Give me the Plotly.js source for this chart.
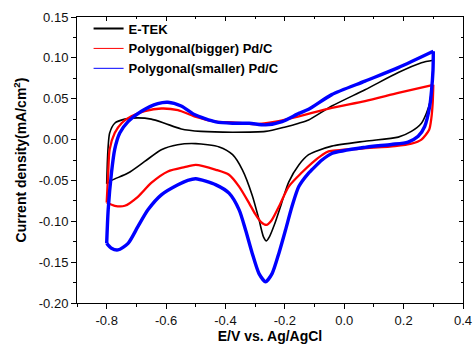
<!DOCTYPE html>
<html>
<head>
<meta charset="utf-8">
<script src="https://cdn.plot.ly/plotly-3.0.1.min.js"></script>
<style>html,body{margin:0;padding:0;background:#fff;}#chart{width:476px;height:345px;}</style>
</head>
<body>
<div id="chart"></div>
<script>
// E-TEK (black): anodic (forward) and cathodic (reverse) scans
var etekFwdX = [-0.8,-0.798,-0.795,-0.79,-0.773,-0.739,-0.695,-0.65,-0.605,-0.549,-0.482,-0.376,-0.265,-0.198,-0.153,-0.12,-0.042,0.07,0.182,0.26,0.3];
var etekFwdY = [-0.054,-0.03,-0.008,0.008,0.020,0.025,0.0265,0.025,0.020,0.013,0.010,0.009,0.010,0.0155,0.020,0.024,0.041,0.061,0.082,0.094,0.097];
var etekRevX = [0.3,0.296,0.288,0.277,0.26,0.226,0.182,0.07,-0.042,-0.097,-0.12,-0.153,-0.187,-0.212,-0.235,-0.252,-0.262,-0.272,-0.287,-0.31,-0.343,-0.376,-0.421,-0.5,-0.561,-0.616,-0.672,-0.728,-0.784,-0.8];
var etekRevY = [0.097,0.07,0.045,0.0326,0.020,0.010,0.003,-0.002,-0.008,-0.0145,-0.0185,-0.031,-0.052,-0.079,-0.104,-0.119,-0.124,-0.119,-0.098,-0.068,-0.037,-0.0185,-0.009,-0.005,-0.0063,-0.0124,-0.0268,-0.041,-0.050,-0.054];

// Polygonal (bigger) Pd/C (red)
var biggerFwdX = [-0.8,-0.795,-0.79,-0.773,-0.75,-0.717,-0.672,-0.616,-0.56,-0.505,-0.432,-0.376,-0.298,-0.231,-0.153,-0.042,0.07,0.182,0.3];
var biggerFwdY = [-0.077,-0.041,-0.012,0.008,0.020,0.0285,0.0347,0.038,0.036,0.0285,0.022,0.021,0.019,0.022,0.0285,0.0388,0.047,0.057,0.067];
var biggerRevX = [0.3,0.298,0.293,0.286,0.26,0.226,0.171,0.059,-0.053,-0.075,-0.109,-0.142,-0.187,-0.22,-0.245,-0.262,-0.28,-0.3,-0.32,-0.354,-0.388,-0.432,-0.5,-0.538,-0.594,-0.65,-0.695,-0.739,-0.773,-0.8];
var biggerRevY = [0.067,0.045,0.025,0.012,0.0,-0.005,-0.008,-0.011,-0.0145,-0.019,-0.0287,-0.040,-0.0575,-0.082,-0.099,-0.1045,-0.101,-0.091,-0.078,-0.0575,-0.043,-0.037,-0.031,-0.0337,-0.039,-0.053,-0.070,-0.081,-0.081,-0.077];

// Polygonal (smaller) Pd/C (blue)
var smallerFwdX = [-0.8,-0.795,-0.784,-0.773,-0.756,-0.728,-0.683,-0.628,-0.594,-0.549,-0.505,-0.432,-0.376,-0.32,-0.265,-0.209,-0.153,-0.12,-0.042,0.07,0.182,0.3];
var smallerFwdY = [-0.127,-0.086,-0.041,-0.012,0.008,0.022,0.0347,0.044,0.0457,0.041,0.0306,0.0216,0.020,0.020,0.018,0.022,0.032,0.037,0.055,0.0715,0.088,0.108];
var smallerRevX = [0.3,0.299,0.294,0.288,0.271,0.249,0.215,0.159,0.07,-0.042,-0.075,-0.109,-0.12,-0.153,-0.176,-0.198,-0.22,-0.243,-0.265,-0.287,-0.31,-0.332,-0.354,-0.388,-0.432,-0.5,-0.527,-0.56,-0.616,-0.661,-0.695,-0.728,-0.762,-0.784,-0.8];
var smallerRevY = [0.108,0.085,0.06,0.041,0.016,0.004,-0.003,-0.006,-0.0095,-0.017,-0.025,-0.037,-0.041,-0.0575,-0.082,-0.111,-0.139,-0.164,-0.174,-0.164,-0.139,-0.111,-0.086,-0.0656,-0.0554,-0.048,-0.050,-0.0554,-0.0677,-0.086,-0.1066,-0.127,-0.135,-0.133,-0.127];

var names = ["E-TEK", "Polygonal(bigger) Pd/C", "Polygonal(smaller) Pd/C"];
var colors = ["#000000", "#ff0000", "#0000ff"];

var xTicks = [-0.8,-0.6,-0.4,-0.2,0.0,0.2,0.4];
var xTickText = ["-0.8","-0.6","-0.4","-0.2","0.0","0.2","0.4"];
var yTicks = [-0.20,-0.15,-0.10,-0.05,0.00,0.05,0.10,0.15];
var yTickText = ["-0.20","-0.15","-0.10","-0.05","0.00","0.05","0.10","0.15"];

var FONT = "Arial, 'Liberation Sans', sans-serif";

function branch(x, y, color, width) {
  return {x: x, y: y, mode: 'lines', line: {color: color, width: width, shape: 'spline', smoothing: 0.7},
          showlegend: false, hoverinfo: 'skip'};
}

var traces = [
  branch(etekFwdX, etekFwdY, colors[0], 1.6),
  branch(etekRevX, etekRevY, colors[0], 1.6),
  branch(biggerFwdX, biggerFwdY, colors[1], 2.3),
  branch(biggerRevX, biggerRevY, colors[1], 2.3),
  branch(smallerFwdX, smallerFwdY, colors[2], 3.4),
  branch(smallerRevX, smallerRevY, colors[2], 3.4),
  // legend entries
  {x: [null], y: [null], mode: 'lines', name: names[0], line: {color: colors[0], width: 2}},
  {x: [null], y: [null], mode: 'lines', name: names[1], line: {color: colors[1], width: 1}},
  {x: [null], y: [null], mode: 'lines', name: names[2], line: {color: colors[2], width: 1}},
  // helper for mirrored top/right axes
  {x: [null], y: [null], xaxis: 'x2', yaxis: 'y2', showlegend: false, hoverinfo: 'skip'}
];

var axisCommon = {
  showgrid: false, zeroline: false, showline: true, linecolor: '#000', linewidth: 1,
  ticks: 'outside', ticklen: 5, tickwidth: 1, tickcolor: '#000',
  tickfont: {family: FONT, size: 13, color: '#111'}
};

var layout = {
  width: 476, height: 345,
  margin: {l: 77, r: 13, t: 17, b: 42},
  paper_bgcolor: '#fff', plot_bgcolor: '#fff',
  font: {family: FONT, color: '#000'},
  xaxis: Object.assign({}, axisCommon, {
    range: [-0.9, 0.4], tickmode: 'array', tickvals: xTicks, ticktext: xTickText,
    minor: {ticks: 'outside', ticklen: 3, tickcolor: '#000', dtick: 0.1, tick0: -0.9},
    title: {text: '<b>E/V vs. Ag/AgCl</b>', font: {family: FONT, size: 14, color: '#000'}, standoff: 4}
  }),
  yaxis: Object.assign({}, axisCommon, {
    range: [-0.2, 0.15], tickmode: 'array', tickvals: yTicks, ticktext: yTickText,
    minor: {ticks: 'outside', ticklen: 3, tickcolor: '#000', dtick: 0.025, tick0: 0},
    title: {text: '<b>Current density(mA/cm<sup>2</sup>)</b>', font: {family: FONT, size: 14, color: '#000'}, standoff: 8}
  }),
  xaxis2: {
    overlaying: 'x', matches: 'x', side: 'top', anchor: 'y2', range: [-0.9, 0.4],
    showgrid: false, zeroline: false, showline: true, linecolor: '#000', linewidth: 1,
    ticks: 'inside', ticklen: 4, tickcolor: '#000', showticklabels: false, tickmode: 'array', tickvals: xTicks,
    minor: {ticks: 'inside', ticklen: 2, tickcolor: '#000', dtick: 0.1, tick0: -0.9}
  },
  yaxis2: {
    overlaying: 'y', matches: 'y', side: 'right', anchor: 'x2', range: [-0.2, 0.15],
    showgrid: false, zeroline: false, showline: true, linecolor: '#000', linewidth: 1,
    ticks: 'inside', ticklen: 4, tickcolor: '#000', showticklabels: false, tickmode: 'array', tickvals: yTicks,
    minor: {ticks: 'inside', ticklen: 2, tickcolor: '#000', dtick: 0.025, tick0: 0}
  },
  showlegend: true,
  legend: {
    x: 0.03, y: 1.012, xanchor: 'left', yanchor: 'top',
    bgcolor: 'rgba(0,0,0,0)', borderwidth: 0,
    font: {family: FONT, size: 13, color: '#000', weight: 'bold'},
    tracegroupgap: 0, itemwidth: 30
  }
};

Plotly.newPlot('chart', traces, layout, {staticPlot: true, displayModeBar: false});
</script>
</body>
</html>
